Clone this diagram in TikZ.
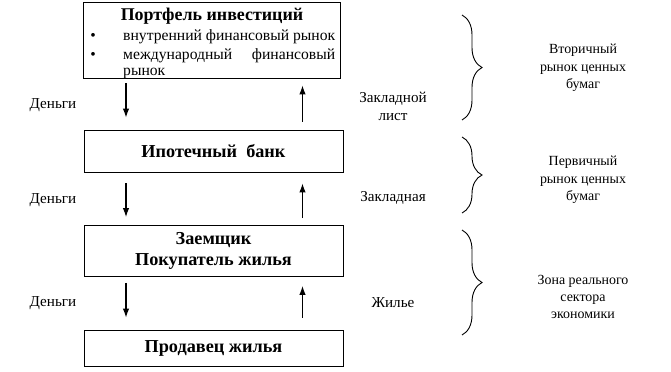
\documentclass[tikz,border=0pt]{standalone}
\usepackage{fontspec}
\setmainfont{Liberation Serif}
\usetikzlibrary{arrows.meta, decorations.pathreplacing, positioning}

\begin{document}
\begin{tikzpicture}[x=1bp, y=-1bp,
    box/.style={draw, line width=0.9bp, minimum width=259bp, inner sep=0pt,
                font=\fontsize{18.3}{21}\selectfont\bfseries, align=center},
    txt/.style={inner sep=0pt, font=\fontsize{15.7}{19}\selectfont},
    flow/.style={line width=1.1bp, -{Latex[length=9bp, width=6.5bp]}},
    lbl/.style={inner sep=0pt, font=\fontsize{15.2}{18}\selectfont, align=center},
    side/.style={inner sep=0pt, font=\fontsize{14}{17.5}\selectfont, align=center},
    zone/.style={line width=0.9bp, decorate, decoration={brace, amplitude=20bp}}]
\useasboundingbox (0,0) rectangle (671,371);

% Boxes
\node[box, minimum width=257bp, minimum height=76bp] (port) at (211.5,40) {};
\node[box, minimum height=42bp] (bank) at (213.5,151) {Ипотечный\ \ банк};
\node[box, minimum height=51bp] (borrower) at (213.5,251) {Заемщик\\Покупатель жилья};
\node[box, minimum height=36bp] (seller) at (213.5,348) {Продавец жилья};

% Portfolio contents
\node[txt, font=\fontsize{18}{19}\selectfont\bfseries] (porttitle) at (212,16) {Портфель инвестиций};
\node[txt] (bul1) at (93,37) {\textbullet};
\node[txt, anchor=west] (item1) at (123,37) {внутренний финансовый рынок};
\node[txt] (bul2) at (93,56) {\textbullet};
\node[txt, anchor=west] (item2) at (123,56) {\makebox[212bp]{международный\hfill финансовый}};
\node[txt, anchor=west] (item2b) at (123,73) {рынок};

% Flows
\coordinate (dn) at (126,0);
\coordinate (up) at (302.5,0);
\draw[flow, shorten <=5bp, shorten >=12bp] (port.south -| dn) -- (bank.north -| dn);
\draw[flow, shorten <=8bp, shorten >=7bp] (bank.north -| up) -- (port.south -| up);
\draw[flow, shorten <=11bp, shorten >=8bp] (bank.south -| dn) -- (borrower.north -| dn);
\draw[flow, shorten <=7bp, shorten >=11bp] (borrower.north -| up) -- (bank.south -| up);
\draw[flow, shorten <=6bp, shorten >=12bp] (borrower.south -| dn) -- (seller.north -| dn);
\draw[flow, shorten <=12bp, shorten >=9bp] (seller.north -| up) -- (borrower.south -| up);

% Flow labels
\node[lbl] (money1) at (53,105) {Деньги};
\node[lbl] (money2) at (53,200) {Деньги};
\node[lbl] (money3) at (53,303) {Деньги};
\node[lbl] (pledge1) at (393,106) {Закладной\\лист};
\node[lbl] (pledge2) at (393,198) {Закладная};
\node[lbl] (housing) at (393,303) {Жилье};

% Zones
\draw[zone] (462,15) -- (462,120);
\draw[zone] (462,137) -- (462,213);
\draw[zone] (462,230) -- (462,335);
\node[side] (secondary) at (583,68) {Вторичный\\рынок ценных\\бумаг};
\node[side] (primary) at (583,180) {Первичный\\рынок ценных\\бумаг};
\node[side] (realzone) at (583,297) {Зона реального\\сектора\\экономики};
\end{tikzpicture}
\end{document}
